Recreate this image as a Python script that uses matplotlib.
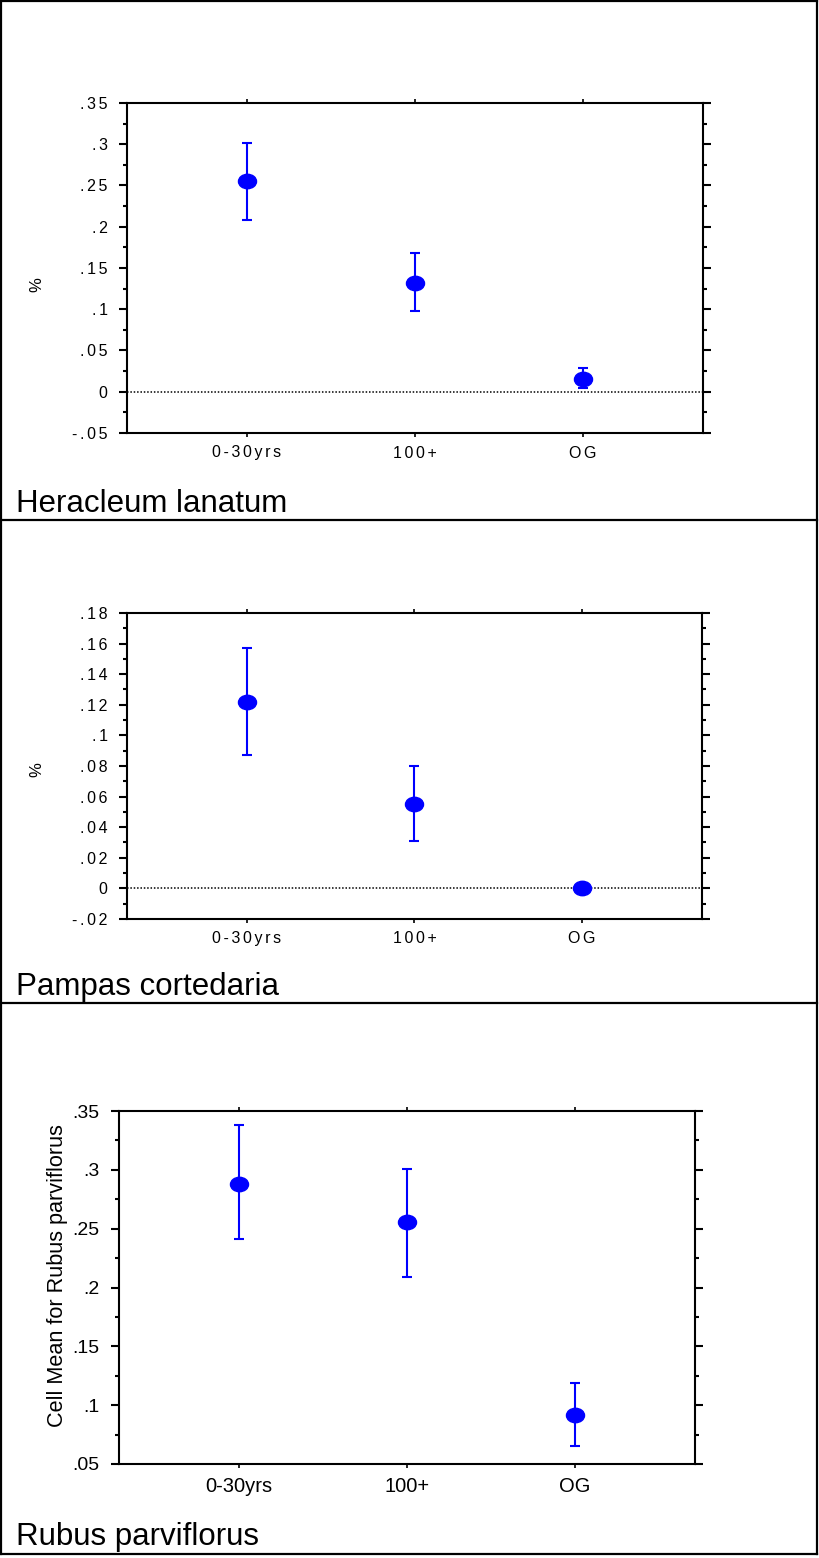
import numpy as np
import matplotlib
matplotlib.use('Agg')
import matplotlib.pyplot as plt
from matplotlib.path import Path
from matplotlib.lines import Line2D
from matplotlib.ticker import MultipleLocator, AutoMinorLocator, FuncFormatter

plt.rcParams['font.family'] = ['Liberation Sans', 'DejaVu Sans']

#data
groups = ['0-30yrs', '100+', 'OG']

heracleum_mean = [0.255, 0.132, 0.015]
heracleum_lo = [0.208, 0.098, 0.004]
heracleum_hi = [0.302, 0.168, 0.029]

pampas_mean = [0.122, 0.055, 0.0]
pampas_lo = [0.087, 0.031, 0.0]
pampas_hi = [0.157, 0.080, 0.0]

rubus_mean = [0.288, 0.256, 0.092]
rubus_lo = [0.241, 0.209, 0.065]
rubus_hi = [0.338, 0.301, 0.119]

panel_names = ['Heracleum lanatum', 'Pampas cortedaria', 'Rubus parviflorus']
ylabels = ['%', '%', 'Cell Mean for Rubus parviflorus']

W, H = 820, 1558
fig = plt.figure(figsize=(W / 100, H / 100), dpi=100)

def box(x0, y0, x1, y1):
    # pixel box (top-left origin) -> figure fraction rect
    return [x0 / W, 1 - y1 / H, (x1 - x0) / W, (y1 - y0) / H]

def spaced(s, on):
    # the first two panels have letter-spaced tick labels
    return '\u2006'.join(s) if on else s

def make_fmt(on):
    def fmt_tick(v, pos):
        s = '%g' % round(v, 4)
        if s.startswith('0.'):
            s = s[1:]
        elif s.startswith('-0.'):
            s = '-' + s[2:]
        return spaced(s, on)
    return fmt_tick

# ellipse marker, wider than tall
circ = Path.unit_circle()
ellipse = Path(circ.vertices * np.array([1.25, 1.0]), circ.codes)

panels = [
    dict(rect=box(127, 103, 703, 433), ylim=(-0.05, 0.35), step=0.05,
         mean=heracleum_mean, lo=heracleum_lo, hi=heracleum_hi, zero=True,
         yfs=11.5, xfs=11.5, lfs=12, lab=(-0.144, 0.45), base=512, sp=True),
    dict(rect=box(127, 613, 702, 919), ylim=(-0.02, 0.18), step=0.02,
         mean=pampas_mean, lo=pampas_lo, hi=pampas_hi, zero=True,
         yfs=11.5, xfs=11.5, lfs=12, lab=(-0.144, 0.487), base=995, sp=True),
    dict(rect=box(119, 1111, 695, 1464), ylim=(0.05, 0.35), step=0.05,
         mean=rubus_mean, lo=rubus_lo, hi=rubus_hi, zero=False,
         yfs=14, xfs=14.5, lfs=15.6, lab=(-0.088, 0.535), base=1545, sp=False),
]

xpos = np.arange(1, len(groups) + 1)

for i, p in enumerate(panels):
    ax = fig.add_axes(p['rect'])
    mean = np.array(p['mean'])
    err = [mean - np.array(p['lo']), np.array(p['hi']) - mean]
    if p['zero']:
        ax.axhline(0, color='black', linestyle=(0, (1, 1.2)), linewidth=1.1, zorder=1)
    ax.errorbar(xpos, mean, yerr=err, fmt='none', ecolor='#0000ff',
                elinewidth=1.5, capsize=3.4, capthick=1.5, zorder=2)
    ax.plot(xpos, mean, linestyle='none', marker=ellipse, markersize=13,
            color='#0000ff', markeredgecolor='#0000ff', zorder=3)
    ax.set_xlim(1 - 0.714, len(groups) + 0.714)
    ax.set_ylim(*p['ylim'])
    ax.set_xticks(xpos)
    ax.set_xticklabels([spaced(g, p['sp']) for g in groups], fontsize=p['xfs'])
    ax.yaxis.set_major_locator(MultipleLocator(p['step']))
    ax.yaxis.set_minor_locator(AutoMinorLocator(2))
    ax.yaxis.set_major_formatter(FuncFormatter(make_fmt(p['sp'])))
    for s in ax.spines.values():
        s.set_linewidth(1.5)
    ax.tick_params(axis='y', which='major', direction='out', length=6, width=1.5,
                   right=True, pad=8, labelsize=p['yfs'])
    ax.tick_params(axis='y', which='minor', direction='out', length=3, width=1.5,
                   right=True)
    ax.tick_params(axis='x', which='major', direction='out', length=3, width=1.2,
                   top=True, pad=6, labelsize=p['xfs'])
    ax.set_ylabel(ylabels[i], fontsize=p['lfs'])
    ax.yaxis.set_label_coords(*p['lab'])
    fig.text(16 / W, 1 - p['base'] / H, panel_names[i], fontsize=22.5,
             va='baseline', ha='left')

# outer frame and panel dividers
lw = 1.6
frame = [(1, 1, 817, 1), (817, 1, 817, 1554), (817, 1554, 1, 1554), (1, 1554, 1, 1),
         (1, 520, 817, 520), (1, 1003, 817, 1003)]
for x0, y0, x1, y1 in frame:
    fig.add_artist(Line2D([x0 / W, x1 / W], [1 - y0 / H, 1 - y1 / H],
                          transform=fig.transFigure, color='black', linewidth=lw,
                          solid_capstyle='projecting'))

fig.savefig('out.png', dpi=100)
